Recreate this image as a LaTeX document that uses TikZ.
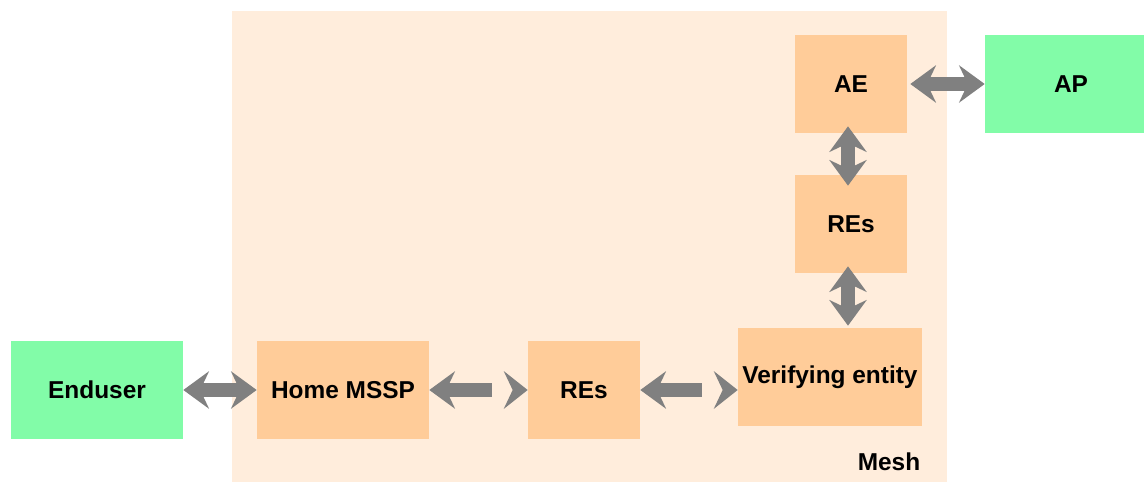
\documentclass[tikz,border=0pt]{standalone}
\usepackage{fontspec}
\setmainfont{Liberation Sans}
\usepackage{xcolor}
\usepackage{tikz}
\usetikzlibrary{arrows.meta,positioning,calc}

\definecolor{meshbg}{HTML}{FFEDDC}
\definecolor{boxfill}{HTML}{FFCC99}
\definecolor{extfill}{HTML}{82FCA8}
\definecolor{arrgray}{HTML}{808080}

\begin{document}
\begin{tikzpicture}[x=0.02cm, y=-0.02cm, every node/.style={font=\fontsize{13.9}{16}\selectfont\bfseries}, box/.style={fill=boxfill,minimum width=2.24cm,minimum height=1.96cm,inner sep=0pt,align=center}, ext/.style={fill=extfill,minimum width=3.44cm,minimum height=1.96cm,inner sep=0pt}, arr/.style={arrgray,line width=8.5pt,>={Stealth[length=14.7pt,width=21.5pt,inset=5.1pt,line width=0pt]}}]
\useasboundingbox (0,0) rectangle (1144,483);
\fill[meshbg] (232,11) rectangle (947,482);
\node at (889,462) (mesh) {Mesh};
\node[ext] at (97,390) (user) {Enduser};
\node[box,minimum width=3.44cm] at (343,390) (home) {Home MSSP};
\node[box] at (584,390) (res2) {REs};
\node[box,minimum width=3.68cm] at (830,377) (ver) {Verifying entity};
\node[box] at (851,224) (res1) {REs};
\node[box] at (851,84) (ae) {AE};
\node[ext] at (1071,84) (ap) {AP};
\draw[arr,<->] (user.east) -- (home.west);
\draw[arr,<-] (home.east) -- ($(home.east)+(63,0)$);
\fill[arrgray] (res2.west) -- ++(-24,-19) -- ++(9,19) -- ++(-9,19) -- cycle;
\draw[arr,<-] (res2.east) -- ($(res2.east)+(62,0)$);
\fill[arrgray] ($(ver.west)+(0,13)$) -- ++(-24,-19) -- ++(9,19) -- ++(-9,19) -- cycle;
\draw[arr,<->] ($(ae.south)+(-3,-7)$) -- ($(res1.north)+(-3,11)$);
\draw[arr,<->] ($(res1.south)+(-3,-7)$) -- ($(ver.north)+(18,-2)$);
\draw[arr,<->] ($(ae.east)+(3,0)$) -- (ap.west);
\end{tikzpicture}
\end{document}
